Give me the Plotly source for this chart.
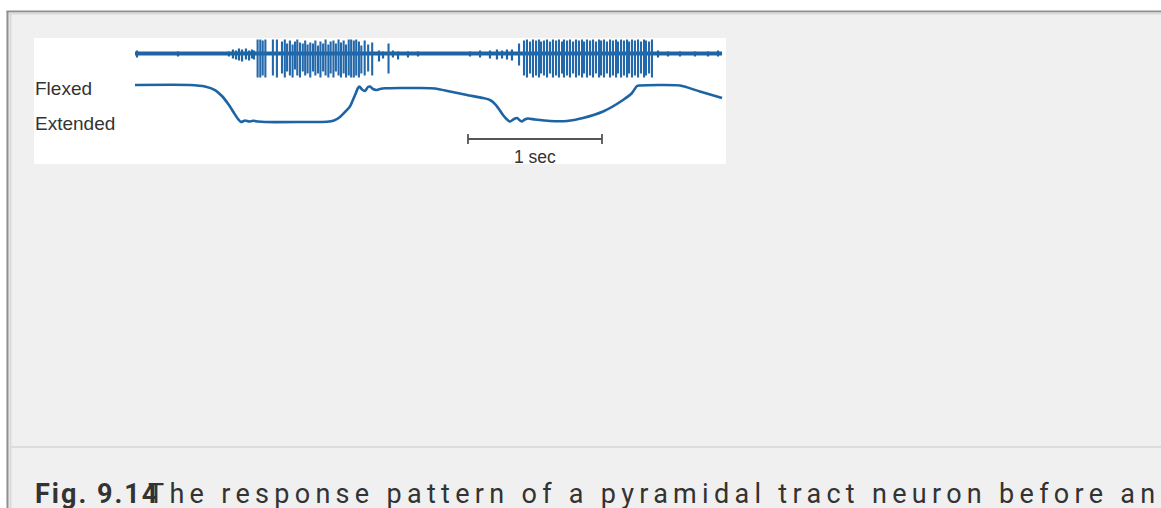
import plotly.graph_objects as go

W, H = 1161, 508
OFF = 0  # body margin is removed below, so page pixels == figure pixels

# ---------------- data ----------------
# neural recording: spike times (s) and peak heights above / below baseline (uV, arbitrary)
spike_t = [0.915, 0.935, 0.953, 0.973, 1.029, 1.059, 1.097, 1.118, 1.135, 1.156,
           1.176, 1.194, 1.211, 1.231, 1.252, 1.270, 1.288, 1.308, 1.328, 1.346,
           1.366, 1.384, 1.404, 1.422, 1.443, 1.460, 1.481, 1.499, 1.519, 1.537,
           1.557, 1.575, 1.595, 1.613, 1.633, 1.651, 1.671, 1.689, 1.714, 1.740,
           1.770, 1.892,
           2.866, 2.903, 2.925, 2.948, 2.970, 2.993, 3.015, 3.030, 3.052, 3.075,
           3.097, 3.119, 3.142, 3.164, 3.187, 3.201, 3.224, 3.246, 3.269, 3.291,
           3.313, 3.336, 3.351, 3.373, 3.396, 3.418, 3.440, 3.463, 3.478, 3.500,
           3.522, 3.545, 3.567, 3.590, 3.604, 3.627, 3.649, 3.672, 3.687, 3.709,
           3.731, 3.754, 3.776, 3.799, 3.813, 3.836, 3.858]
spike_up = [14, 14, 13, 14, 14, 14, 12, 14, 10, 13,
            9, 12, 14, 11, 10, 13, 9, 11, 10, 13,
            8, 12, 10, 14, 9, 12, 13, 10, 14, 11,
            13, 9, 14, 14, 13, 14, 12, 8, 13, 9,
            11, 10,
            10, 13, 14, 12, 14, 13, 14, 12, 13, 14,
            12, 14, 13, 14, 12, 14, 13, 14, 12, 14,
            13, 14, 12, 14, 13, 14, 12, 14, 13, 14,
            12, 14, 13, 14, 12, 14, 13, 14, 12, 14,
            13, 14, 12, 14, 13, 12, 14]
spike_down = [24, 24, 22, 24, 22, 24, 20, 24, 18, 22,
              24, 16, 22, 24, 18, 22, 20, 24, 18, 22,
              20, 24, 18, 22, 24, 20, 24, 18, 22, 24,
              20, 24, 22, 24, 24, 22, 24, 20, 22, 18,
              22, 20,
              12, 22, 24, 20, 24, 22, 24, 20, 22, 24,
              20, 24, 22, 24, 20, 24, 22, 24, 20, 24,
              22, 24, 20, 24, 22, 24, 20, 24, 22, 24,
              20, 24, 22, 24, 20, 24, 22, 24, 20, 24,
              22, 24, 20, 24, 22, 20, 24]

# small background blips on the recording baseline
noise_t = [0.015, 0.321, 0.701, 0.731, 0.754, 0.776, 0.799, 0.828, 0.851, 0.873,
           0.888, 1.821, 1.851, 1.925, 1.963, 2.037, 2.112, 2.500, 2.575, 2.649,
           2.701, 2.739, 2.776, 2.813, 3.903, 3.978, 4.067, 4.179, 4.276, 4.351]
noise_up = [3, 2, 2, 4, 3, 5, 4, 5, 3, 4,
            3, 3, 2, 3, 2, 2, 2, 2, 3, 3,
            4, 3, 4, 4, 3, 2, 2, 2, 2, 3]
noise_down = [4, 3, 3, 5, 6, 7, 8, 6, 7, 5,
              6, 8, 5, 4, 6, 4, 3, 3, 4, 5,
              6, 5, 6, 7, 4, 3, 3, 3, 3, 3]
record_t = [0.0, 4.381]
record_v = [0, 0]

# joint position (1 = flexed, 0 = extended)
pos_t = [0.000, 0.410, 0.522, 0.597, 0.649, 0.701, 0.739, 0.769, 0.791, 0.821,
         0.851, 0.881, 0.918, 0.970, 1.231, 1.433, 1.485, 1.530, 1.567, 1.604,
         1.642, 1.664, 1.675, 1.694, 1.716, 1.739, 1.754, 1.776, 1.799, 1.828,
         1.866, 1.978, 2.127, 2.239, 2.351, 2.478, 2.597, 2.649, 2.694, 2.746,
         2.776, 2.799, 2.828, 2.851, 2.873, 2.888, 2.910, 2.933, 2.985, 3.097,
         3.224, 3.343, 3.493, 3.642, 3.709, 3.746, 3.769, 4.067, 4.216, 4.381]
pos_v = [1.000, 1.000, 0.958, 0.861, 0.694, 0.444, 0.222, 0.056, -0.028, 0.014,
         -0.014, 0.006, -0.014, -0.028, -0.028, -0.022, 0.014, 0.111, 0.250, 0.403,
         0.722, 0.917, 0.958, 0.875, 0.833, 0.944, 0.958, 0.889, 0.861, 0.889,
         0.908, 0.917, 0.917, 0.903, 0.819, 0.722, 0.639, 0.583, 0.444, 0.167,
         0.042, -0.014, 0.056, 0.083, 0.014, -0.014, 0.042, 0.069, 0.042, 0.000,
         0.000, 0.083, 0.264, 0.583, 0.778, 0.972, 0.986, 0.986, 0.819, 0.639]

pos_labels = ["Flexed", "Extended"]
scale_start = 2.485   # s
scale_len = 1.0       # s
scale_label = "1 sec"

caption_bold = "Fig. 9.14"
caption_text = "The response pattern of a pyramidal tract neuron before an"

# ---------------- styling ----------------
BLUE = "#1d64a4"
SPIKE = "#2268ab"
GREY = "#555555"
TXT = "#333333"


def px_x(p):
    """page pixel -> paper x"""
    return (p - OFF) / W


def px_y(p):
    """page pixel -> paper y"""
    return 1 - (p - OFF) / H


fig = go.Figure()

sx, sy = [], []
for t, u, d in zip(spike_t, spike_up, spike_down):
    sx += [t, t, None]
    sy += [u, -d, None]
nx, ny = [], []
for t, u, d in zip(noise_t, noise_up, noise_down):
    nx += [t, t, None]
    ny += [u, -d, None]

fig.add_trace(go.Scatter(x=record_t, y=record_v, mode="lines",
                         line=dict(color=BLUE, width=3.8), hoverinfo="skip"))
fig.add_trace(go.Scatter(x=nx, y=ny, mode="lines",
                         line=dict(color=BLUE, width=2.2), hoverinfo="skip"))
fig.add_trace(go.Scatter(x=sx, y=sy, mode="lines",
                         line=dict(color=SPIKE, width=2.1), hoverinfo="skip"))

fig.add_trace(go.Scatter(x=pos_t, y=pos_v, mode="lines", yaxis="y2",
                         line=dict(color=BLUE, width=2.6, shape="spline", smoothing=0.6),
                         hoverinfo="skip"))

fig.add_trace(go.Scatter(
    x=[scale_start, scale_start + scale_len, None, scale_start, scale_start, None,
       scale_start + scale_len, scale_start + scale_len],
    y=[-0.5, -0.5, None, -0.36, -0.64, None, -0.36, -0.64],
    mode="lines", yaxis="y2", line=dict(color=GREY, width=1.8), hoverinfo="skip"))

x0d, x1d = 34, 726
y0d, y1d = 38, 164

fig.update_layout(
    width=W, height=H,
    margin=dict(l=0, r=0, t=0, b=0),
    paper_bgcolor="#f0f0f0",
    plot_bgcolor="white",
    showlegend=False,
    xaxis=dict(domain=[px_x(x0d), px_x(x1d)], range=[-0.7537, 4.4104],
               visible=False, fixedrange=True),
    yaxis=dict(domain=[px_y(y1d), px_y(y0d)], range=[-110.5, 15.5],
               visible=False, fixedrange=True),
    yaxis2=dict(overlaying="y", range=[-1.1944, 2.3056], visible=False,
                fixedrange=True),
)

LBL = "Liberation Sans, Arial"
annos = [
    dict(text=pos_labels[0], x=px_x(33), xref="paper", y=0.889, yref="y2",
         xanchor="left", yanchor="middle", showarrow=False,
         font=dict(family=LBL, size=19, color=TXT)),
    dict(text=pos_labels[1], x=px_x(33), xref="paper", y=-0.083, yref="y2",
         xanchor="left", yanchor="middle", showarrow=False,
         font=dict(family=LBL, size=19, color=TXT)),
    dict(text=scale_label, x=scale_start + scale_len / 2, xref="x", y=-1.0, yref="y2",
         xanchor="center", yanchor="middle", showarrow=False,
         font=dict(family=LBL, size=17.5, color=TXT)),
    dict(text='<span style="letter-spacing:2px"><b>' + caption_bold + '</b></span>',
         x=px_x(33), xref="paper", y=px_y(494), yref="paper",
         xanchor="left", yanchor="middle", showarrow=False,
         font=dict(family="Roboto", size=27, color=TXT)),
    dict(text='<span style="letter-spacing:5.3px">' + caption_text + '</span>',
         x=px_x(146), xref="paper", y=px_y(494), yref="paper",
         xanchor="left", yanchor="middle", showarrow=False,
         font=dict(family="Roboto", size=27, color=TXT)),
]
fig.update_layout(annotations=annos)

shapes = [
    # white margins outside the frame
    dict(type="rect", xref="paper", yref="paper", x0=0, x1=1, y0=px_y(11), y1=1,
         fillcolor="white", line=dict(width=0), layer="below"),
    dict(type="rect", xref="paper", yref="paper", x0=0, x1=px_x(6.5), y0=0, y1=1,
         fillcolor="white", line=dict(width=0), layer="below"),
    # frame lines
    dict(type="line", xref="paper", yref="paper", x0=px_x(6.5), x1=1, y0=px_y(11.5), y1=px_y(11.5),
         line=dict(color="#8f8f8f", width=2)),
    dict(type="line", xref="paper", yref="paper", x0=px_x(9), x1=1, y0=px_y(13.5), y1=px_y(13.5),
         line=dict(color="#dadada", width=2)),
    dict(type="line", xref="paper", yref="paper", x0=px_x(7.5), x1=px_x(7.5), y0=0, y1=px_y(11),
         line=dict(color="#8f8f8f", width=2)),
    dict(type="line", xref="paper", yref="paper", x0=px_x(10.5), x1=px_x(10.5), y0=0, y1=px_y(13),
         line=dict(color="#dadada", width=2)),
    # divider above caption
    dict(type="line", xref="paper", yref="paper", x0=px_x(11), x1=1, y0=px_y(447), y1=px_y(447),
         line=dict(color="#dcdcdc", width=2)),
]
fig.update_layout(shapes=shapes)

fig.write_html("out.html", config={"displayModeBar": False},
               post_script="document.body.style.margin='0px';")
